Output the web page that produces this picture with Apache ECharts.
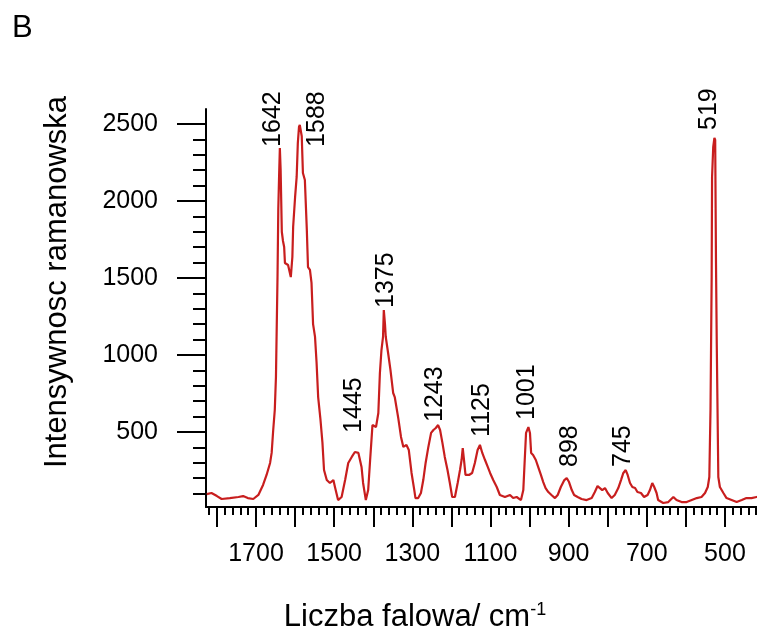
<!DOCTYPE html>
<html>
<head>
<meta charset="utf-8">
<script src="https://cdn.jsdelivr.net/npm/echarts@6/dist/echarts.min.js"></script>
<style>
  html, body { margin: 0; padding: 0; background: #fff; }
  #chart { width: 757px; height: 632px; }
</style>
</head>
<body>
<div id="chart"></div>
<script>
// spectrum: wavenumber (cm-1) and intensity
var waveNumbers = [1826, 1814, 1800, 1788, 1767, 1745, 1733, 1721, 1707, 1694, 1682, 1673, 1664, 1660, 1656, 1652, 1649, 1647, 1645, 1643, 1641, 1639, 1637, 1634, 1631, 1628, 1626, 1618, 1611, 1607, 1605, 1600, 1596, 1593, 1590, 1588, 1586, 1583, 1580, 1575, 1570, 1567, 1562, 1558, 1554, 1549, 1545, 1541, 1535, 1530, 1526, 1519, 1511, 1502, 1498, 1490, 1481, 1472, 1464, 1455, 1447, 1438, 1430, 1426, 1419, 1413, 1408, 1402, 1393, 1387, 1383, 1379, 1375, 1373, 1370, 1368, 1362, 1356, 1349, 1345, 1336, 1329, 1323, 1315, 1309, 1302, 1295, 1292, 1285, 1278, 1272, 1266, 1259, 1252, 1246, 1240, 1234, 1229, 1223, 1217, 1210, 1204, 1198, 1191, 1184, 1178, 1174, 1171, 1169, 1167, 1164, 1155, 1147, 1140, 1133, 1127, 1121, 1114, 1107, 1101, 1093, 1084, 1076, 1063, 1050, 1042, 1033, 1029, 1022, 1016, 1012, 1009, 1005, 1003, 999, 996, 991, 984, 978, 971, 965, 959, 952, 944, 935, 928, 920, 911, 905, 899, 892, 886, 877, 867, 854, 841, 833, 826, 820, 814, 807, 800, 790, 782, 773, 766, 760, 754, 749, 743, 737, 730, 724, 715, 707, 698, 692, 686, 681, 675, 671, 658, 645, 632, 624, 611, 598, 585, 572, 560, 551, 544, 540, 537, 534, 533, 530, 527, 525, 523, 521, 519, 517, 513, 504, 496, 483, 470, 457, 445, 432, 419, 412];
var intensities = [97, 104, 84, 65, 71, 78, 84, 71, 65, 91, 156, 221, 299, 364, 513, 643, 857, 1182, 1506, 1950, 2156, 2344, 2200, 1800, 1740, 1701, 1597, 1584, 1506, 1636, 1831, 2026, 2156, 2377, 2481, 2494, 2490, 2420, 2182, 2136, 1812, 1571, 1552, 1468, 1200, 1117, 948, 727, 578, 429, 253, 188, 169, 188, 143, 58, 78, 188, 299, 338, 370, 364, 273, 169, 58, 123, 318, 545, 532, 623, 883, 1032, 1117, 1292, 1200, 1117, 1013, 903, 753, 727, 590, 468, 403, 416, 383, 234, 123, 71, 71, 104, 188, 299, 403, 494, 513, 526, 545, 513, 429, 338, 253, 169, 78, 78, 169, 253, 318, 396, 396, 299, 221, 221, 234, 299, 383, 416, 364, 318, 273, 234, 188, 143, 91, 78, 91, 71, 78, 71, 58, 123, 338, 494, 500, 532, 494, 364, 351, 318, 273, 221, 175, 136, 110, 91, 71, 91, 143, 188, 201, 175, 123, 91, 78, 65, 58, 71, 110, 149, 136, 123, 136, 104, 71, 91, 136, 188, 234, 253, 221, 169, 143, 136, 110, 104, 78, 91, 123, 169, 143, 104, 58, 39, 45, 78, 58, 45, 45, 58, 71, 78, 104, 143, 208, 643, 1506, 2156, 2351, 2409, 2396, 1617, 1078, 643, 208, 143, 104, 71, 58, 45, 58, 71, 71, 78, 80];

// peak labels: text, wavenumber and intensity where the text starts
var peakNames = ['1642', '1588', '1445', '1375', '1243', '1125', '1001', '898', '745', '519'];
var peakX = [1657, 1544, 1449, 1366, 1242, 1122, 1007, 897, 761, 541];
var peakY = [2351, 2351, 494, 1305, 565, 468, 578, 273, 273, 2461];

var xMajorTicks = [1800, 1700, 1600, 1500, 1400, 1300, 1200, 1100, 1000, 900, 800, 700, 600, 500];
var xTickLabels = [1700, 1500, 1300, 1100, 900, 700, 500];
var yMajorTicks = [500, 1000, 1500, 2000, 2500];
var yTickLabels = [500, 1000, 1500, 2000, 2500];

var xMinorTicks = [];
for (var t = 1820; t >= 420; t -= 20) {
    if (t % 100 !== 0) xMinorTicks.push(t);
}
var yMinorTicks = [];
for (var v = 100; v <= 2500; v += 100) {
    if (v % 500 !== 0) yMinorTicks.push(v);
}

var spectrum = waveNumbers.map(function (w, i) { return [w, intensities[i]]; });
var peaks = peakNames.map(function (n, i) { return { name: n, value: [peakX[i], peakY[i]] }; });

var FONT = 'Liberation Sans';
var xMin = 418, xMax = 1828, yMin = 13, yMax = 2597;

function plain(v) { return String(v); } // no thousands separator

function xAxisBase(extra) {
    var a = {
        type: 'value', inverse: true, min: xMin, max: xMax,
        position: 'bottom',
        splitLine: { show: false },
        axisLine: { show: false },
        axisTick: { show: false },
        axisLabel: { show: false }
    };
    for (var k in extra) a[k] = extra[k];
    return a;
}
function yAxisBase(extra) {
    var a = {
        type: 'value', min: yMin, max: yMax,
        position: 'left',
        splitLine: { show: false },
        axisLine: { show: false },
        axisTick: { show: false },
        axisLabel: { show: false }
    };
    for (var k in extra) a[k] = extra[k];
    return a;
}

var chart = echarts.init(document.getElementById('chart'), null, { renderer: 'canvas' });

chart.setOption({
    animation: false,
    backgroundColor: '#fff',
    grid: { left: 206, right: 0, top: 109, bottom: 125 },
    xAxis: [
        xAxisBase({
            axisLine: { show: true, lineStyle: { color: '#000', width: 2 } },
            axisTick: { show: true, customValues: xMajorTicks, length: 20, lineStyle: { color: '#000', width: 2 } },
            axisLabel: { show: true, customValues: xTickLabels, formatter: plain, margin: 35, color: '#000', fontFamily: FONT, fontSize: 25 }
        }),
        xAxisBase({
            axisTick: { show: true, customValues: xMinorTicks, length: 8, lineStyle: { color: '#000', width: 2 } }
        })
    ],
    yAxis: [
        yAxisBase({
            axisLine: { show: true, lineStyle: { color: '#000', width: 2 } },
            axisTick: { show: true, customValues: yMajorTicks, length: 29, lineStyle: { color: '#000', width: 2 } },
            axisLabel: { show: true, customValues: yTickLabels, formatter: plain, margin: 48, color: '#000', fontFamily: FONT, fontSize: 25 }
        }),
        yAxisBase({
            axisTick: { show: true, customValues: yMinorTicks, length: 13, lineStyle: { color: '#000', width: 2 } }
        })
    ],
    series: [
        {
            type: 'line',
            data: spectrum,
            showSymbol: false,
            lineStyle: { color: '#c81e1e', width: 2.2 },
            clip: true
        },
        {
            type: 'scatter',
            data: peaks,
            symbolSize: 0,
            silent: true,
            itemStyle: { opacity: 1 },
            label: {
                show: true,
                position: 'top',
                distance: 0,
                rotate: 90,
                align: 'left',
                verticalAlign: 'middle',
                formatter: '{b}',
                color: '#000',
                textBorderWidth: 0,
                fontFamily: FONT,
                fontSize: 25
            }
        }
    ],
    graphic: [
        {
            type: 'text', left: 12, top: 13,
            style: { text: 'B', fill: '#000', font: '31px "Liberation Sans"' }
        },
        {
            type: 'text', x: 57, y: 282, rotation: Math.PI / 2,
            style: {
                text: 'Intensywnosc ramanowska', fill: '#000',
                font: '31px "Liberation Sans"', align: 'center', verticalAlign: 'middle'
            }
        },
        {
            type: 'text', x: 415, y: 617,
            style: {
                text: '{a|Liczba falowa/ cm}{s|-1}',
                align: 'center', verticalAlign: 'middle',
                rich: {
                    a: { fontFamily: FONT, fontSize: 31, fill: '#000', color: '#000' },
                    s: { fontFamily: FONT, fontSize: 18, fill: '#000', color: '#000', verticalAlign: 'top' }
                }
            }
        }
    ]
});
</script>
</body>
</html>
